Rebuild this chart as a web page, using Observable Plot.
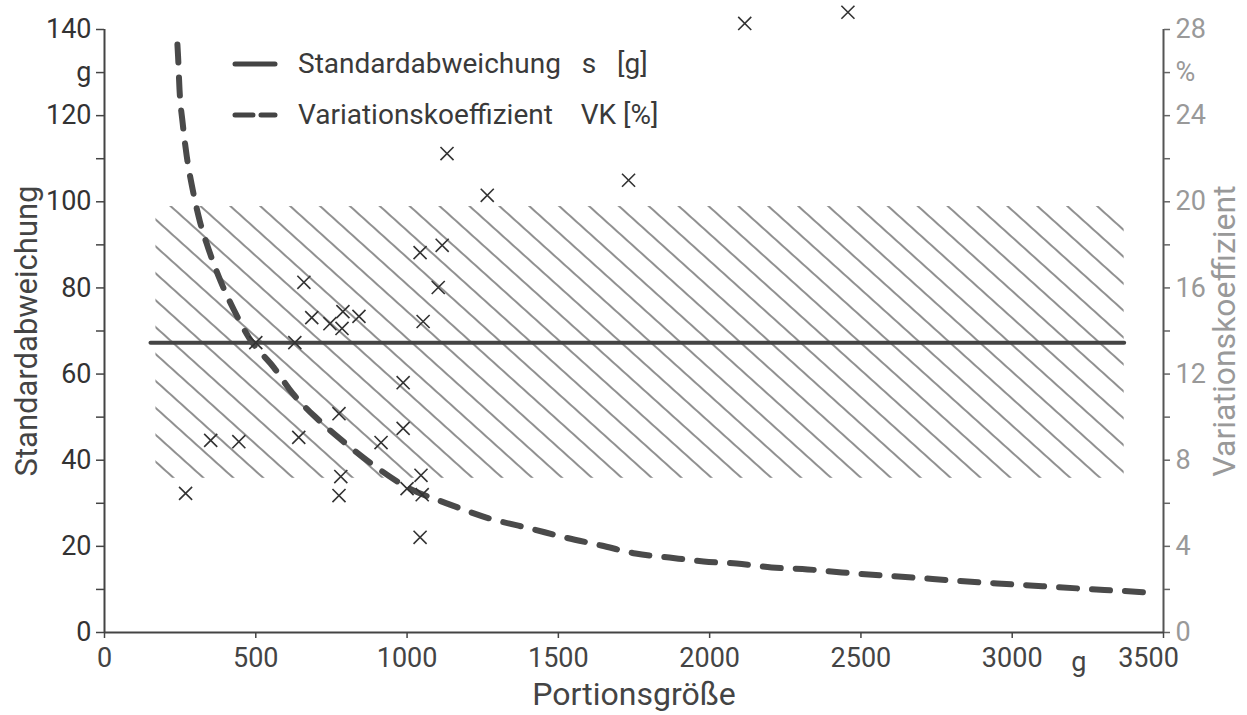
<!DOCTYPE html>
<html><head><meta charset="utf-8">
<script src="https://cdn.jsdelivr.net/npm/d3@7"></script>
<script src="https://cdn.jsdelivr.net/npm/@observablehq/plot@0.6"></script>
<style>
body{margin:0;background:#fff;}
#wrap{position:relative;width:1247px;height:715px;overflow:hidden;}
#legend{position:absolute;left:232px;top:38px;font-family:Roboto,sans-serif;font-size:28px;color:#3a3a3a;}
.row{display:flex;align-items:center;height:51px;white-space:pre;}
.row svg{margin-right:20px;display:block}
</style></head><body><div id="wrap"><div id="legend"></div></div>
<script>
// Scatter points: Portionsgröße (g) vs Standardabweichung s (g)
const portion = [268,351,444,500,629,642,659,685,745,775,775,781,785,788,841,914,987,987,1000,1043,1043,1046,1050,1053,1103,1116,1132,1265,1732,2116,2457];
const stdDev  = [32.3,44.6,44.3,67.3,67.3,45.3,81.3,73.1,71.7,50.8,31.8,36.2,70.6,74.5,73.4,44.1,58.0,47.4,33.4,22.1,88.2,36.5,32.0,72.2,80.1,89.9,111.2,101.5,105,141.4,144];

// Variationskoeffizient curve (g, %)
const vkPortion = [241,243,248,258,272,291,315,344,384,427,477,560,622,705,795,891,993,1142,1271,1407,1523,1642,1755,1867,1980,2089,2205,2324,2437,2569,2675,2800,2950,3100,3225,3337,3475];
const vkValues  = [27.3,26.8,25.2,23.7,22.1,20.6,19.1,17.8,16.3,15.0,13.7,12.3,11.1,9.9,8.8,7.75,6.8,5.94,5.3,4.83,4.41,4.04,3.67,3.48,3.3,3.2,3.02,2.93,2.79,2.65,2.55,2.42,2.28,2.15,2.04,1.95,1.84];

// Mean standard deviation line and hatched band
const meanStd = 67.3;
const meanLineRange = [152, 3370];
const bandRange = [170, 3370];
const bandLow = 35.8, bandHigh = 98.9;

// Axes
const xTicks = [0,500,1000,1500,2000,2500,3000,3500];
const xUnitPos = [3220], xUnitLabel = "g";
const leftTicks  = [0,10,20,30,40,50,60,70,80,90,100,110,120,130,140];
const leftLabels = ["0","","20","","40","","60","","80","","100","","120","g","140"];
const rightTicks  = [0,2,4,6,8,10,12,14,16,18,20,22,24,26,28];
const rightLabels = ["0","","4","","8","","12","","16","","20","","24","%","28"];
const yMax = 140, vkMax = 28, xMax = 3500;

const xLabel = "Portionsgröße";
const yLabel = "Standardabweichung";
const y2Label = "Variationskoeffizient";
const legendItems = [
  {label: "Standardabweichung   s   [g]", dash: null},
  {label: "Variationskoeffizient    VK [%]", dash: "18,8"}
];

const k = yMax / vkMax;
const points = portion.map((p, i) => ({x: p, y: stdDev[i]}));
const vk = vkPortion.map((p, i) => ({x: p, y: vkValues[i] * k}));
const meanLine = meanLineRange.map(x => ({x, y: meanStd}));
const band = [{x1: bandRange[0], x2: bandRange[1], y1: bandLow, y2: bandHigh}];
const leftMap = new Map(leftTicks.map((v, i) => [v, leftLabels[i]]));
const rightMap = new Map(rightTicks.map((v, i) => [v * k, rightLabels[i]]));
const xLast = xTicks.filter(v => v >= xMax);

const hatchDefs = () => {
  const defs = d3.create("svg:defs");
  const p = defs.append("pattern").attr("id", "hatch")
    .attr("patternUnits", "userSpaceOnUse").attr("width", 20).attr("height", 20)
    .attr("patternTransform", "rotate(-48)");
  p.append("line").attr("x1", 1).attr("x2", 1).attr("y1", -1).attr("y2", 21)
    .attr("stroke", "#222").attr("stroke-width", 1);
  return defs.node();
};

const chart = Plot.plot({
  width: 1247, height: 715,
  marginLeft: 104, marginRight: 84, marginTop: 29, marginBottom: 83,
  style: {fontFamily: "Roboto, sans-serif", background: "#fff"},
  x: {domain: [0, xMax]},
  y: {domain: [0, yMax]},
  marks: [
    hatchDefs,
    Plot.rect(band, {x1: "x1", x2: "x2", y1: "y1", y2: "y2", fill: "url(#hatch)"}),
    Plot.line(meanLine, {x: "x", y: "y", stroke: "#444", strokeWidth: 4}),
    Plot.line(vk, {x: "x", y: "y", curve: "monotone-x", stroke: "#4a4a4a", strokeWidth: 6,
      strokeDasharray: "18,15", strokeLinecap: "round"}),
    Plot.dot(points, {x: "x", y: "y", symbol: "times", r: 6, stroke: "#333", strokeWidth: 1.6}),
    Plot.ruleX([0], {stroke: "#444", strokeWidth: 2}),
    Plot.ruleX([xMax], {stroke: "#555", strokeWidth: 2}),
    Plot.ruleY([0], {stroke: "#444", strokeWidth: 2}),
    Plot.axisY({ticks: leftTicks, tickFormat: d => leftMap.get(d), tickSize: 8, tickPadding: 5,
      fontSize: 27, color: "#333", stroke: "#444", strokeWidth: 1.5, label: null}),
    Plot.axisY({anchor: "right", ticks: rightTicks.map(v => v * k), tickFormat: d => rightMap.get(d),
      tickSize: 6, tickPadding: 6, fontSize: 27, color: "#999", stroke: "#666", strokeWidth: 1.5, label: null}),
    Plot.axisX({ticks: xTicks, tickFormat: d => (d >= xMax ? "" : String(d)), tickSize: 6, tickPadding: 9,
      fontSize: 27, color: "#444", stroke: "#444", strokeWidth: 1.5, label: null}),
    Plot.axisX({ticks: xLast, tickFormat: d => String(d), tickSize: 0, tickPadding: 15, dx: -15,
      fontSize: 27, color: "#444", label: null}),
    Plot.axisX({ticks: xUnitPos, tickFormat: () => xUnitLabel, tickSize: 0, tickPadding: 19,
      fontSize: 27, color: "#444", label: null}),
    Plot.text([yLabel], {frameAnchor: "left", textAnchor: "middle", lineAnchor: "middle", rotate: -90, dx: -77, fontSize: 31, fill: "#444"}),
    Plot.text([y2Label], {frameAnchor: "right", textAnchor: "middle", lineAnchor: "middle", rotate: -90, dx: 61, fontSize: 32, fill: "#999"}),
    Plot.text([xLabel], {frameAnchor: "bottom", textAnchor: "middle", lineAnchor: "middle", dy: 62, fontSize: 32, fill: "#444"})
  ]
});
document.getElementById("wrap").prepend(chart);

const legend = d3.select("#legend");
legendItems.forEach(item => {
  const row = legend.append("div").attr("class", "row");
  const s = row.append("svg").attr("width", 46).attr("height", 10);
  const l = s.append("line").attr("x1", 3).attr("x2", 43).attr("y1", 5).attr("y2", 5)
    .attr("stroke", "#444").attr("stroke-width", 5).attr("stroke-linecap", "round");
  if (item.dash) l.attr("stroke-dasharray", item.dash);
  row.append("span").text(item.label);
});
</script>
</body></html>
